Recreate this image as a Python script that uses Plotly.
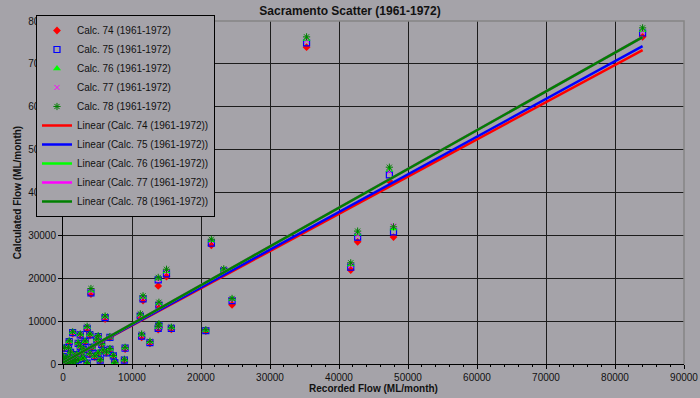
import plotly.graph_objects as go

# ---- data ----
recorded = [84000, 35300, 47300, 47900, 42700, 41700, 21500, 23300, 24500, 20700,
            15000, 13800, 11600, 13900, 11200, 13900, 13800, 15700, 11400, 12600,
            4050, 6100, 9000, 8900, 3500, 1400, 2500, 3900, 5100, 6800,
            900, 2200, 3200, 4900, 200, 800, 2500, 3900, 5100, 5800,
            6800, 6300, 4600, 5400, 7300, 7500, 3500, 50, 1700, 2700,
            2900, 300, 600, 1000, 1300, 1800, 2200, 400, 1500, 700,
            2000, 1100, 3000, 4200, 5600, 200, 100, 900]

calc74 = [76300, 73900, 42700, 29600, 28500, 21900, 27700, 21200, 13800, 7700,
          20400, 18200, 14800, 13400, 10900, 8600, 8000, 8100, 6200, 4800,
          16300, 10500, 3500, 800, 8000, 7100, 6600, 6600, 6200, 6100,
          5100, 4700, 5100, 5500, 3600, 3600, 3900, 2200, 2400, 3000,
          3300, 2600, 1600, 900, 1800, 300, 100, 1700, 1600, 2400,
          1300, 300, 500, 800, 400, 700, 1000, 1200, 200, 100,
          2100, 2600, 3300, 3800, 4500, 200, 700, 1500]

calc75 = [77200, 74900, 44100, 30800, 29600, 22600, 28200, 21700, 14800, 7800,
          21000, 19600, 15200, 13700, 11200, 8900, 8300, 8300, 6500, 5000,
          16600, 10800, 3700, 900, 8300, 7300, 6800, 6800, 6400, 6200,
          5200, 4800, 5200, 5600, 3700, 3700, 4000, 2300, 2500, 3100,
          3400, 2600, 1700, 900, 1900, 300, 200, 1700, 1700, 2500,
          1300, 300, 500, 800, 400, 700, 1000, 1200, 200, 100,
          2200, 2700, 3400, 3900, 4600, 200, 700, 1500]

calc76 = [77900, 75800, 45300, 31600, 30400, 23200, 28800, 22000, 15100, 7900,
          21600, 19900, 15600, 14100, 11500, 9200, 8600, 8500, 6800, 5200,
          17100, 11000, 3800, 1000, 8600, 7400, 6900, 6900, 6500, 6300,
          5300, 4900, 5300, 5700, 3700, 3800, 4100, 2400, 2600, 3200,
          3500, 2700, 1800, 1000, 2000, 400, 200, 1800, 1800, 2600,
          1400, 300, 500, 900, 400, 800, 1100, 1300, 200, 100,
          2200, 2700, 3400, 3900, 4700, 200, 800, 1600]

calc77 = [77600, 75500, 44900, 32200, 30100, 23000, 28600, 21900, 15000, 8000,
          21400, 19700, 15400, 14000, 11400, 9000, 8500, 8400, 6700, 5100,
          16900, 10900, 3700, 1000, 8500, 7300, 6800, 6900, 6400, 6300,
          5300, 4900, 5300, 5700, 3700, 3700, 4100, 2400, 2500, 3200,
          3500, 2700, 1800, 1000, 1900, 400, 200, 1800, 1700, 2500,
          1400, 300, 500, 900, 400, 800, 1100, 1300, 200, 100,
          2200, 2700, 3400, 3900, 4700, 200, 800, 1600]

calc78 = [78400, 76300, 45900, 32000, 31000, 23600, 29100, 22200, 15300, 8000,
          22100, 20200, 15900, 14400, 11700, 9400, 8800, 8600, 7000, 5300,
          17600, 11200, 3900, 1100, 8800, 7500, 7000, 7000, 6600, 6400,
          5400, 5000, 5400, 5800, 3800, 3800, 4200, 2500, 2600, 3300,
          3600, 2800, 1900, 1000, 2000, 400, 300, 1800, 1800, 2600,
          1400, 300, 600, 900, 500, 800, 1100, 1300, 300, 100,
          2300, 2800, 3500, 4000, 4800, 300, 800, 1600]

series_names = ["Calc. 74 (1961-1972)", "Calc. 75 (1961-1972)", "Calc. 76 (1961-1972)",
                "Calc. 77 (1961-1972)", "Calc. 78 (1961-1972)"]
# linear trend (slope, intercept)
trend_slope = [0.868, 0.879, 0.904, 0.904, 0.904]
trend_intercept = [300, 300, 300, 300, 300]
trend_x = [0, 84000]

x_ticks = [0, 10000, 20000, 30000, 40000, 50000, 60000, 70000, 80000, 90000]
y_ticks = [0, 10000, 20000, 30000, 40000, 50000, 60000, 70000, 80000]

# ---- styling ----
BG = "#a5a3a9"
FONT = "Liberation Sans, Arial, sans-serif"
marker_styles = [
    dict(symbol="diamond", color="#ff0000", size=6),
    dict(symbol="square-open", color="#0000ff", size=6, line=dict(width=1.2)),
    dict(symbol="triangle-up", color="#00ff00", size=7),
    dict(symbol="x-thin-open", color="#ff00ff", size=5, line=dict(width=1, color="#ff00ff")),
    dict(symbol="asterisk-open", color="#007f00", size=6, line=dict(width=1, color="#007f00")),
]
line_colors = ["#ff0000", "#0000ff", "#00ff00", "#ff00ff", "#008000"]

fig = go.Figure()
all_series = [calc74, calc75, calc76, calc77, calc78]
for name, ys, ms in zip(series_names, all_series, marker_styles):
    fig.add_trace(go.Scatter(x=recorded, y=ys, mode="markers", name=name, marker=ms))

for name, m, b, c in zip(series_names, trend_slope, trend_intercept, line_colors):
    fig.add_trace(go.Scatter(
        x=trend_x, y=[m * v + b for v in trend_x], mode="lines",
        name=f"Linear ({name})", line=dict(color=c, width=2.5)))

fig.update_layout(
    width=700, height=398,
    paper_bgcolor=BG, plot_bgcolor=BG,
    margin=dict(l=63, r=16, t=21, b=34, autoexpand=False),
    font=dict(family=FONT, size=10, color="#111111"),
    title=dict(text="<b>Sacramento Scatter (1961-1972)</b>", x=0.5, xref="container",
               xanchor="center", y=0.972, yref="container", yanchor="middle",
               font=dict(size=12, family=FONT, color="#111111")),
    showlegend=True,
    legend=dict(x=-0.0435, y=1.0175, xanchor="left", yanchor="top",
                bgcolor=BG, bordercolor="#000000", borderwidth=1,
                font=dict(size=10, family=FONT, color="#111111"),
                itemwidth=30, tracegroupgap=0, maxheight=360),
    xaxis=dict(range=[0, 90000], tickvals=x_ticks, ticktext=[str(v) for v in x_ticks],
               showgrid=True, gridcolor="#1c1c1c", gridwidth=1, zeroline=False,
               showline=True, linecolor="#000000", linewidth=1,
               ticks="outside", ticklen=4, tickcolor="#000000",
               minor=dict(dtick=2000, ticks="outside", ticklen=2, tickcolor="#000000", showgrid=False),
               title=dict(text="<b>Recorded Flow (ML/month)</b>", standoff=2,
                          font=dict(size=10, family=FONT))),
    yaxis=dict(range=[0, 80000], tickvals=y_ticks, ticktext=[str(v) for v in y_ticks],
               showgrid=True, gridcolor="#1c1c1c", gridwidth=1, zeroline=False,
               showline=True, linecolor="#000000", linewidth=1,
               ticks="outside", ticklen=4, tickcolor="#000000",
               title=dict(text="<b>Calculated Flow (ML/month)</b>", standoff=4,
                          font=dict(size=10, family=FONT))),
    shapes=[dict(type="path", xref="paper", yref="paper", path="M 0,1 L 1,1 L 1,0",
                 line=dict(color="#858585", width=1.5), layer="above")],
)

fig.write_html(
    "out.html",
    config={"displayModeBar": False},
    post_script="document.body.style.margin='0';document.body.style.overflow='hidden';",
)
